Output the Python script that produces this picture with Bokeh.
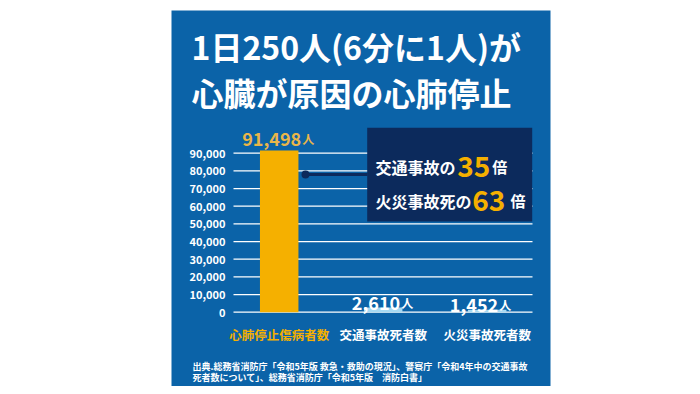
from bokeh.plotting import figure
from bokeh.models import Range1d
from bokeh.core.properties import value
from bokeh.embed import file_html
from bokeh.resources import INLINE

# ---------------- data ----------------
categories = ["心肺停止傷病者数", "交通事故死者数", "火災事故死者数"]
counts = [91498, 2610, 1452]
count_labels = ["91,498", "2,610", "1,452"]
unit = "人"
y_ticks = [0, 10000, 20000, 30000, 40000, 50000, 60000, 70000, 80000, 90000]
y_tick_labels = ["0", "10,000", "20,000", "30,000", "40,000", "50,000",
                 "60,000", "70,000", "80,000", "90,000"]
title_lines = ["1日250人(6分に1人)が", "心臓が原因の心肺停止"]
ratio_prefix = ["交通事故の", "火災事故死の"]
ratio_values = ["35", "63"]
ratio_suffix = "倍"
source_lines = ["出典.総務省消防庁「令和5年版 救急・救助の現況」、警察庁「令和4年中の交通事故",
                "死者数について」、総務省消防庁「令和5年版　消防白書」"]

# ---------------- style ----------------
BLUE = "#0b63a8"
ORANGE = "#f5b000"
GOLD = "#e9b64a"
LIGHT = "#a6d9f2"
NAVY = "#0c2a5c"
JP = value("Noto Sans CJK JP")

PW, PH = 379, 376          # panel size (frame)
ZERO_PY = 301.7            # panel pixel row of value 0
K = 159.0 / 90000          # pixels per person
BAR0_PX = 107.7            # panel pixel column of first bar centre
STEP = 104.0               # pixels between bar centres


def X(px):
    return (px - BAR0_PX) / STEP


def Y(py):
    return (ZERO_PY - py) / K


p = figure(width=684, height=386, output_backend="svg", toolbar_location=None,
           x_range=Range1d(X(0), X(PW)), y_range=Range1d(Y(PH), Y(0)),
           x_axis_location=None, y_axis_location=None,
           min_border_left=171, min_border_right=134, min_border_top=10, min_border_bottom=0,
           background_fill_color=BLUE, border_fill_color="white", outline_line_color=None)
p.grid.visible = False

xs = list(range(len(categories)))

# gridlines
p.segment(x0=X(62), x1=X(361), y0=y_ticks, y1=y_ticks, line_color="white", line_width=1.3)

# y tick labels
p.text(x=X(54), y=y_ticks, text=y_tick_labels, text_align="right", text_baseline="middle",
       text_color="white", text_font=JP, text_font_style="bold", text_font_size="11px")

# bars
p.vbar(x=xs, top=counts, bottom=0, width=0.37, fill_color=[ORANGE, LIGHT, LIGHT], line_color=None)

# value labels
label_gap = [-12, -5, -5]
label_dx = [22, 17, 11]
label_col = [GOLD, "white", "white"]
for i in xs:
    p.text(x=[i], y=[counts[i]], text=[count_labels[i]], text_align="right",
           text_baseline="alphabetic", x_offset=label_dx[i], y_offset=label_gap[i],
           text_color=label_col[i], text_font=JP, text_font_style="bold", text_font_size="18px")
    p.text(x=[i], y=[counts[i]], text=[unit], text_align="left",
           text_baseline="alphabetic", x_offset=label_dx[i] + 1, y_offset=label_gap[i],
           text_color=label_col[i], text_font=JP, text_font_style="bold", text_font_size="12px")

# category labels
p.text(x=xs, y=[Y(324)] * 3, text=categories, text_align="center", text_baseline="alphabetic",
       text_color=[ORANGE, "white", "white"], text_font=JP, text_font_style="bold",
       text_font_size="12.5px")

# callout box and pointer
p.quad(left=X(195.7), right=X(360.7), top=Y(117.3), bottom=Y(211), fill_color=NAVY, line_color=None)
p.segment(x0=X(134), x1=X(196), y0=Y(164), y1=Y(164), line_color=NAVY, line_width=3)
p.scatter(x=[X(134)], y=[Y(164)], size=8, fill_color=NAVY, line_color=None)

box_base = [156, 190]
num_px = [285.7, 300.7]
suf_px = [320.7, 339]
for j in range(2):
    p.text(x=[X(204)], y=[Y(box_base[j])], text=[ratio_prefix[j]], text_align="left",
           text_baseline="alphabetic", text_color="white", text_font=JP, text_font_style="bold",
           text_font_size="16px")
    p.text(x=[X(num_px[j])], y=[Y(box_base[j])], text=[ratio_values[j]], text_align="left",
           text_baseline="alphabetic", text_color=ORANGE, text_font=JP, text_font_style="bold",
           text_font_size="28px")
    p.text(x=[X(suf_px[j])], y=[Y(box_base[j])], text=[ratio_suffix], text_align="left",
           text_baseline="alphabetic", text_color="white", text_font=JP, text_font_style="bold",
           text_font_size="15px")

# title
p.text(x=[X(20)], y=[Y(35)], text=[title_lines[0]], text_align="left", text_baseline="alphabetic",
       text_color="white", text_font=JP, text_font_style="bold", text_font_size="32px")
p.text(x=[X(20)], y=[Y(81)], text=[title_lines[1]], text_align="left", text_baseline="alphabetic",
       text_color="white", text_font=JP, text_font_style="bold", text_font_size="32px")

# source
p.text(x=[X(21)] * 2, y=[Y(355.5), Y(367)], text=source_lines, text_align="left",
       text_baseline="alphabetic", text_color="white", text_font=JP, text_font_style="bold",
       text_font_size="9px")

open("out.html", "w").write(file_html(p, INLINE))
